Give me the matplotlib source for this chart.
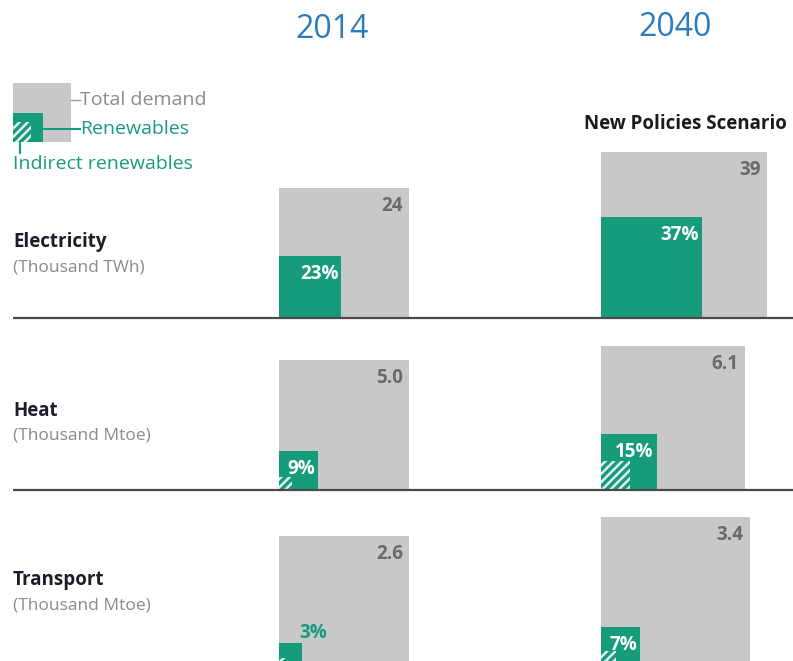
import numpy as np
import matplotlib
matplotlib.use("Agg")
import matplotlib.pyplot as plt

# ---------------- data ----------------
sectors = ["Electricity", "Heat", "Transport"]
units = ["(Thousand TWh)", "(Thousand Mtoe)", "(Thousand Mtoe)"]
years = ["2014", "2040"]
total_2014 = [24, 5.0, 2.6]
total_2040 = [39, 6.1, 3.4]
total_labels_2014 = ["24", "5.0", "2.6"]
total_labels_2040 = ["39", "6.1", "3.4"]
renew_2014 = [23, 9, 3]          # % share of renewables
renew_2040 = [37, 15, 7]
indirect_2014 = [0, 1, 0.4]      # % share of indirect renewables
indirect_2040 = [0, 4, 1]
scenario_label = "New Policies Scenario"

# ---------------- style / layout ----------------
GREEN = "#169b7b"
GRAY = "#c8c8c8"
BLUE = "#2a7cbf"
VALGRAY = "#6a6a6a"
LINE = "#4a4a4a"
HATCHC = "#e2f1ec"
FONT = "Open Sans"
plt.rcParams["font.family"] = [FONT, "DejaVu Sans"]
plt.rcParams["hatch.linewidth"] = 1.8
HATCH = "////"

baselines = [318, 490, 666]
col_left = [279, 601]
base_side = 130.0

fig = plt.figure(figsize=(7.93, 6.61), dpi=100)
ax = fig.add_axes([0, 0, 1, 1])
ax.set_xlim(0, 793)
ax.set_ylim(661, 0)
ax.axis("off")

# year headers
year_x = [332, 675]
year_y = [30, 27]
for yx, yy, yr in zip(year_x, year_y, years):
    ax.text(yx, yy, yr, color=BLUE, fontsize=23, ha="center", va="center")

ax.text(685, 124, scenario_label, fontsize=13.5, fontweight="bold",
        color="#1a1a1a", ha="center", va="center")

# legend (drawn)
ax.bar(13, 59, width=58, bottom=83, align="edge", color=GRAY, lw=0)
ax.bar(13, 29, width=30, bottom=113, align="edge", color=GREEN, lw=0)
ax.bar(13, 20, width=18, bottom=122, align="edge", color=GREEN,
       edgecolor=HATCHC, hatch=HATCH, lw=0)
ax.plot([71, 80], [100, 100], color="#9a9a9a", lw=1)
ax.plot([43, 80], [129, 129], color=GREEN, lw=1.5)
ax.plot([20, 20], [142, 153], color=GREEN, lw=1.5)
ax.text(80, 100, "Total demand", color="#8c8c8c", fontsize=14, ha="left", va="center")
ax.text(80, 129, "Renewables", color=GREEN, fontsize=14, ha="left", va="center")
ax.text(13, 164, "Indirect renewables", color=GREEN, fontsize=14, ha="left", va="center")

# section labels
label_y = [242, 411, 580]
for name, unit, ly in zip(sectors, units, label_y):
    ax.text(13, ly, name, fontsize=13.5, fontweight="bold", color="#1c1c2a",
            ha="left", va="center")
    ax.text(13, ly + 25, unit, fontsize=12.5, color="#8a8a8a", ha="left", va="center")

# squares
totals = [total_2014, total_2040]
tlabels = [total_labels_2014, total_labels_2040]
renews = [renew_2014, renew_2040]
indirects = [indirect_2014, indirect_2040]

for i in range(len(sectors)):
    base = baselines[i]
    for j in range(2):
        left = col_left[j]
        side = base_side * np.sqrt(totals[j][i] / total_2014[i])
        ax.bar(left, side, width=side, bottom=base - side, align="edge",
               color=GRAY, lw=0)
        ax.text(left + side - 6, base - side + 8, tlabels[j][i], color=VALGRAY,
                fontsize=13.5, fontweight="bold", ha="right", va="top")
        rside = side * np.sqrt(renews[j][i] / 100.0)
        ax.bar(left, rside, width=rside, bottom=base - rside, align="edge",
               color=GREEN, lw=0)
        if indirects[j][i] > 0:
            iside = side * np.sqrt(indirects[j][i] / 100.0)
            ax.bar(left, iside, width=iside, bottom=base - iside, align="edge",
                   color=GREEN, edgecolor=HATCHC, hatch=HATCH, lw=0)
        pct = f"{renews[j][i]}%"
        if rside < 30:
            ax.text(left + rside - 2, base - rside, pct, color=GREEN,
                    fontsize=13.5, fontweight="bold", ha="left", va="bottom")
        else:
            ax.text(left + rside - 3, base - rside + 8, pct, color="white",
                    fontsize=13.5, fontweight="bold", ha="right", va="top")
    ax.plot([13, 793], [base, base], color=LINE, lw=1.6, solid_capstyle="butt")

fig.savefig("out.png", dpi=100)
